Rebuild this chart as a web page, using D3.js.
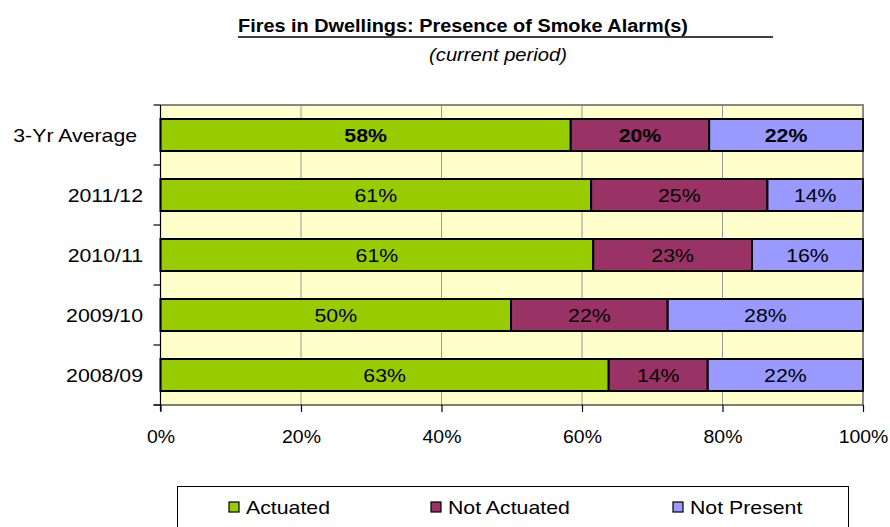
<!DOCTYPE html>
<html><head><meta charset="utf-8">
<script src="https://cdn.jsdelivr.net/npm/d3@7"></script>
<style>body{margin:0;background:#fff;}svg{display:block;font-family:"Liberation Sans",Arial,sans-serif;} text{white-space:pre;}</style>
</head><body><svg id="c" width="890" height="527"></svg>
<script>
const categories = ["3-Yr Average ","2011/12","2010/11","2009/10","2008/09"];
const seriesNames = ["Actuated","Not Actuated","Not Present"];
const actuated    = [58.4, 61.3, 61.6, 49.9, 63.8];
const notActuated = [19.7, 25.1, 22.6, 22.3, 14.1];
const notPresent  = [21.9, 13.6, 15.8, 27.8, 22.1];
const actuatedLabels    = ["58%","61%","61%","50%","63%"];
const notActuatedLabels = ["20%","25%","23%","22%","14%"];
const notPresentLabels  = ["22%","14%","16%","28%","22%"];
const xTicks = [0,20,40,60,80,100];
const colors = ["#99CC00","#993366","#9999FF"];

const svg = d3.select("#c");
const L=160.5, R=863, T=105, B=405;
const x = d3.scaleLinear().domain([0,100]).range([L,R]);
const y = d3.scaleBand().domain(categories).range([T,B]).paddingInner(0.4667).paddingOuter(0.2333);

function stretch(sel, f){
  sel.each(function(){
    const w = this.getComputedTextLength();
    d3.select(this).attr("textLength", w*f).attr("lengthAdjust","spacingAndGlyphs");
  });
}
const SX = 1.12;

svg.append("rect").attr("x",L).attr("y",T).attr("width",R-L).attr("height",B-T).attr("fill","#FFFFCC");
svg.append("g").selectAll("line").data(xTicks.slice(1,-1)).join("line")
  .attr("x1",d=>x(d)).attr("x2",d=>x(d)).attr("y1",T).attr("y2",B)
  .attr("stroke","#999").attr("stroke-width",1);
svg.append("path").attr("d",`M${L},${T}H${R}V${B}`).attr("fill","none").attr("stroke","#888").attr("stroke-width",2);

const series = [actuated, notActuated, notPresent];
const labels = [actuatedLabels, notActuatedLabels, notPresentLabels];
const rows = categories.map((c,i)=>{
  let acc=0;
  return series.map((s,k)=>{const seg={cat:c,i,k,x0:acc,x1:acc+s[i],label:labels[k][i]}; acc+=s[i]; return seg;});
}).flat();

svg.append("g").selectAll("rect").data(rows).join("rect")
  .attr("x",d=>x(d.x0)).attr("width",d=>x(d.x1)-x(d.x0))
  .attr("y",d=>y(d.cat)).attr("height",y.bandwidth())
  .attr("fill",d=>colors[d.k]).attr("stroke","#000").attr("stroke-width",2);

svg.append("g").selectAll("text").data(rows).join("text")
  .attr("x",d=>(x(d.x0)+x(d.x1))/2).attr("y",d=>y(d.cat)+y.bandwidth()/2)
  .attr("dy","0.36em").attr("text-anchor","middle")
  .attr("font-size",19).attr("font-weight",d=>d.i===0?"bold":"normal")
  .text(d=>d.label).call(stretch, SX);

// axes
svg.append("line").attr("x1",L).attr("x2",L).attr("y1",T).attr("y2",B+6).attr("stroke","#000").attr("stroke-width",1.2);
svg.append("line").attr("x1",L-7).attr("x2",R).attr("y1",B).attr("y2",B).attr("stroke","#000").attr("stroke-width",1.2);
const bounds = categories.map(c=>y(c)-y.step()*y.paddingInner()/2).concat([B]);
svg.append("g").selectAll("line").data(bounds).join("line")
  .attr("x1",L-7).attr("x2",L).attr("y1",d=>d).attr("y2",d=>d).attr("stroke","#000").attr("stroke-width",1.2);
svg.append("g").selectAll("text").data(categories).join("text")
  .attr("x",143).attr("y",d=>y(d)+y.bandwidth()/2).attr("dy","0.36em")
  .attr("text-anchor","end").attr("font-size",19).text(d=>d).call(stretch, SX);

const xAxis = d3.axisBottom(x).tickValues(xTicks).tickSize(7).tickPadding(18).tickFormat(d=>d+"%");
const gx = svg.append("g").attr("transform",`translate(0,${B})`).call(xAxis);
gx.select(".domain").remove();
gx.selectAll("line").attr("stroke","#000").attr("stroke-width",1.2);
gx.selectAll("text").attr("font-size",18).attr("fill","#000").attr("font-family","Liberation Sans, Arial, sans-serif").call(stretch, 1.08);

// title
svg.append("text").attr("x",238).attr("y",32).attr("font-size",18).attr("font-weight","bold")
  .attr("textLength",450).attr("lengthAdjust","spacingAndGlyphs")
  .text("Fires in Dwellings: Presence of Smoke Alarm(s)");
svg.append("line").attr("x1",238).attr("x2",773).attr("y1",37).attr("y2",37).attr("stroke","#000").attr("stroke-width",1.5);
svg.append("text").attr("x",498).attr("y",61).attr("text-anchor","middle").attr("font-size",18).attr("font-style","italic")
  .text("(current period)").call(stretch, 1.12);

// legend
svg.append("rect").attr("x",177.5).attr("y",486.5).attr("width",671).attr("height",60).attr("fill","#fff").attr("stroke","#000").attr("stroke-width",1);
const legX = [229,431,673];
const lg = svg.append("g").selectAll("g").data(seriesNames).join("g").attr("transform",(d,i)=>`translate(${legX[i]},502)`);
lg.append("rect").attr("width",10).attr("height",10).attr("fill",(d,i)=>colors[i]).attr("stroke","#000").attr("stroke-width",1.2);
lg.append("text").attr("x",17).attr("y",5).attr("dy","0.36em").attr("font-size",19).text(d=>d).call(stretch, SX);
</script></body></html>
